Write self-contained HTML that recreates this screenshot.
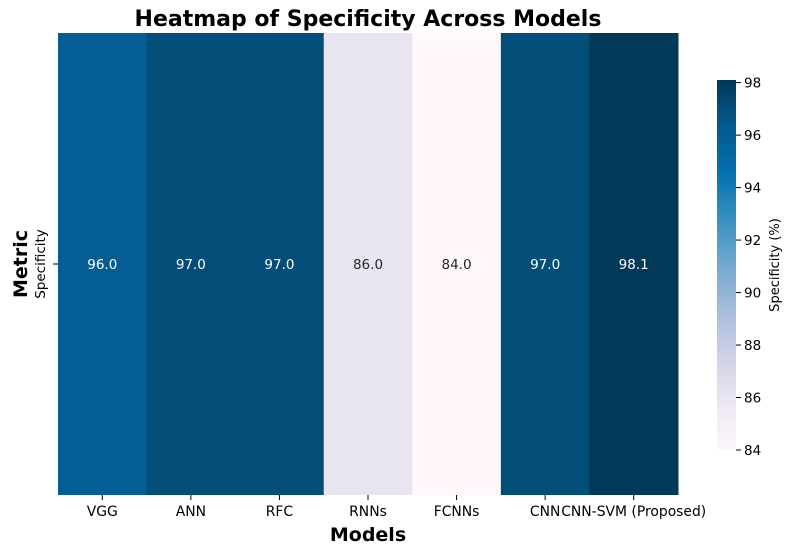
<!DOCTYPE html>
<html><head><meta charset="utf-8"><style>
body{margin:0;background:#fff}
svg text{font-family:"DejaVu Sans","Liberation Sans",sans-serif}
</style></head><body>
<svg id="chart" width="792" height="554" xmlns="http://www.w3.org/2000/svg">
<defs><linearGradient id="cb" x1="0" y1="1" x2="0" y2="0"></linearGradient></defs>
<text x="368" y="26" text-anchor="middle" font-size="22" font-weight="bold">Heatmap of Specificity Across Models</text>
<text x="368" y="541" text-anchor="middle" font-size="19" font-weight="bold">Models</text>
<text transform="translate(27,264) rotate(-90)" text-anchor="middle" font-size="19" font-weight="bold">Metric</text>
<text transform="translate(45,264) rotate(-90)" text-anchor="middle" font-size="13.5">Specificity</text>
<line x1="53" x2="58" y1="264" y2="264" stroke="#000"/>
<g id="cells"></g>
<g id="cbar"></g>
<text transform="translate(779,265) rotate(-90)" text-anchor="middle" font-size="13">Specificity (%)</text>
</svg>
<script>
const models=["VGG","ANN","RFC","RNNs","FCNNs","CNN","CNN-SVM (Proposed)"];
const values=[96.0,97.0,97.0,86.0,84.0,97.0,98.1];
const cbTicks=[84,86,88,90,92,94,96,98];
const NS="http://www.w3.org/2000/svg";
const stops=["#fff7fb","#ece7f2","#d0d1e6","#a6bddb","#74a9cf","#3690c0","#0570b0","#045a8d","#023858"];
const vmin=Math.min(...values),vmax=Math.max(...values);
function hex(c){return [1,3,5].map(i=>parseInt(c.substr(i,2),16));}
function cmap(v){let t=(v-vmin)/(vmax-vmin);t=Math.max(0,Math.min(1,t))*8;let i=Math.min(7,Math.floor(t)),f=t-i;
 const a=hex(stops[i]),b=hex(stops[i+1]);return "rgb("+a.map((x,k)=>Math.round(x+(b[k]-x)*f)).join(",")+")";}
const x0=58,x1=678,y0=33,y1=495,cw=(x1-x0)/models.length;
const g=document.getElementById("cells");
function mk(tag,attrs,parent){const e=document.createElementNS(NS,tag);for(const k in attrs)e.setAttribute(k,attrs[k]);parent.appendChild(e);return e;}
models.forEach((m,i)=>{
 const r=mk("rect",{x:x0+i*cw,y:y0,width:cw+0.5,height:y1-y0,fill:cmap(values[i])},g);
 
 
 const light=(values[i]-vmin)/(vmax-vmin)<0.5;
 const t=mk("text",{x:x0+(i+0.5)*cw,y:269,"text-anchor":"middle","font-size":13.5,fill:light?"#262626":"#fff"},g);
 t.textContent=values[i].toFixed(1);
 
 
 const tk=mk("line",{x1:x0+(i+0.5)*cw,x2:x0+(i+0.5)*cw,y1:y1,y2:y1+5,stroke:"#000"},g);
 
 
 const l=mk("text",{x:x0+(i+0.5)*cw,y:y1+21,"text-anchor":"middle","font-size":13.9},g);
 l.textContent=m;
 
 
});
const grad=document.getElementById("cb");
stops.forEach((s,i)=>mk("stop",{offset:(i/8*100)+"%","stop-color":s},grad));
const cb=document.getElementById("cbar");
const cbx=717,cbw=19,cbTop=80,cbBot=450;
function cy(v){return cbBot-(v-vmin)/(vmax-vmin)*(cbBot-cbTop);}
const cr=mk("rect",{x:cbx,y:cbTop,width:cbw,height:cbBot-cbTop,fill:"url(#cb)"},cb);


cbTicks.forEach(v=>{
 const y=cy(v);
 const ln=mk("line",{x1:cbx+cbw,x2:cbx+cbw+5,y1:y,y2:y,stroke:"#000"},cb);
 
 
 const t=mk("text",{x:cbx+cbw+8,y:y+5,"font-size":13.5},cb);
 t.textContent=v;
 
 
});
</script>
</body></html>
